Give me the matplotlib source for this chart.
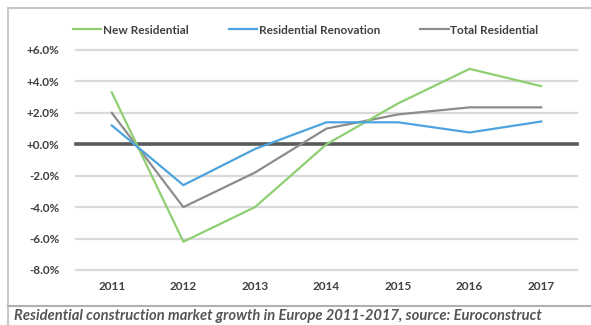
import matplotlib
matplotlib.use('Agg')
import matplotlib.pyplot as plt
from matplotlib.lines import Line2D

years = ['2011', '2012', '2013', '2014', '2015', '2016', '2017']
new_residential = [3.3, -6.2, -4.0, 0.0, 2.6, 4.8, 3.7]
renovation = [1.2, -2.6, -0.3, 1.4, 1.4, 0.75, 1.45]
total_residential = [2.0, -4.0, -1.8, 1.0, 1.9, 2.35, 2.35]
yticks = [6, 4, 2, 0, -2, -4, -6, -8]
caption = 'Residential construction market growth in Europe 2011-2017, source: Euroconstruct'

plt.rcParams['font.family'] = ['Lato', 'DejaVu Sans']

W, H = 591, 325
fig = plt.figure(figsize=(W / 100, H / 100), dpi=100)
fig.patch.set_facecolor('white')

# outer frame and caption separator
fig.add_artist(Line2D([8 / W, 1], [1 - 8 / H, 1 - 8 / H], color='#c8c8c8', lw=1.5))
fig.add_artist(Line2D([8 / W, 8 / W], [0, 1 - 8 / H], color='#c8c8c8', lw=1.5))
fig.add_artist(Line2D([8 / W, 1], [1 - 306 / H, 1 - 306 / H], color='#b0b0b0', lw=1.5))

ax = fig.add_axes([76 / W, 55 / H, 501 / W, 220 / H])
x = list(range(len(years)))
ax.set_xlim(-0.5, len(years) - 0.5)
ax.set_ylim(-8, 6)

for v in yticks:
    if v == 0:
        ax.axhline(v, color='#595959', lw=2.6, zorder=1, clip_on=False)
    else:
        ax.axhline(v, color='#d9d9d9', lw=1.6, zorder=0, clip_on=False)

ax.plot(x, new_residential, color='#8fcf72', lw=1.6, label='New Residential', zorder=3)
ax.plot(x, renovation, color='#4ca3dd', lw=1.6, label='Residential Renovation', zorder=3)
ax.plot(x, total_residential, color='#8c8c8c', lw=1.6, label='Total Residential', zorder=2)

ax.set_yticks(yticks)
ax.set_yticklabels(['%+.1f%%' % v if v != 0 else '+0.0%' for v in yticks],
                   fontsize=8.5, fontweight='bold', color='#404040')
ax.set_xticks(x)
ax.set_xticklabels(years, fontsize=8.5, fontweight='bold', color='#404040')
ax.tick_params(length=0)
ax.tick_params(axis='y', pad=12)
ax.tick_params(axis='x', pad=8)
for s in ax.spines.values():
    s.set_visible(False)

leg = fig.legend(loc='center', bbox_to_anchor=(0.517, 1 - 30 / H), ncol=3, frameon=False,
                 fontsize=8.5, handlelength=2.4, columnspacing=3.4, handletextpad=0.15)
for t in leg.get_texts():
    t.set_fontweight('bold')
    t.set_color('#404040')

fig.text(14 / W, 1 - 316 / H, caption, fontsize=10.6, style='italic', fontweight='bold',
         color='#555555', va='center', ha='left')

fig.savefig('out.png', dpi=100)
